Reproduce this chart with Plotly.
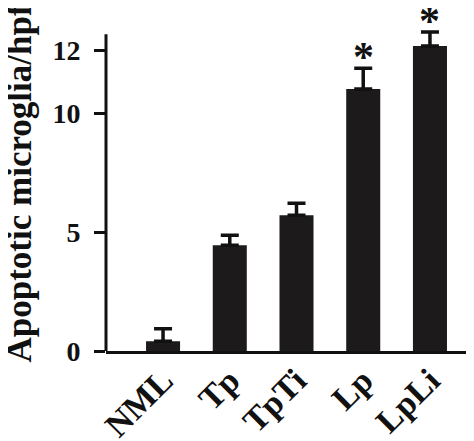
import plotly.graph_objects as go

groups = ["NML", "Tp", "TpTi", "Lp", "LpLi"]
means = [0.41, 4.45, 5.71, 11.02, 12.83]
errors = [0.53, 0.42, 0.51, 0.88, 0.59]
marks = ["", "", "", "*", "*"]
tick_vals = [0, 5, 10, 12.65]
tick_text = ["0", "5", "10", "12"]
axis_top = 13.33

FONT = "Liberation Serif, Times New Roman, serif"
INK = '#111111'

fig = go.Figure()
fig.add_trace(go.Bar(
    x=groups, y=means,
    marker={'color': '#1c1a1a', 'line': {'width': 0}},
    width=0.51,
    error_y={'type': 'data', 'array': errors, 'symmetric': False, 'arrayminus': [0] * len(errors),
             'color': INK, 'thickness': 3.5, 'width': 9},
))

# significance stars sit just above the error caps
for g, m, e, s in zip(groups, means, errors, marks):
    if s:
        fig.add_annotation(x=g, y=m + e, text=s, showarrow=False, xref='x', yref='y',
                           yanchor='bottom', yshift=-14,
                           font={'family': FONT, 'size': 42, 'color': INK, 'weight': 'bold'})

fig.add_shape(type='line', xref='paper', yref='y', x0=0, x1=0, y0=0, y1=axis_top,
              line={'color': INK, 'width': 3})

fig.add_annotation(text="<b>Apoptotic microglia/hpf</b>", textangle=-90, showarrow=False,
                   xref='paper', yref='paper', x=-0.234, y=0.488, xanchor='center', yanchor='middle',
                   font={'size': 35, 'family': FONT, 'color': INK})

fig.update_layout(
    width=466, height=433,
    margin={'l': 98, 'r': 0, 't': 0, 'b': 90},
    paper_bgcolor='white', plot_bgcolor='white',
    showlegend=False,
    font={'family': FONT, 'color': INK},
    xaxis={'range': [-0.855, 4.66], 'showgrid': False, 'showline': True, 'linewidth': 3, 'linecolor': INK,
           'ticks': '', 'tickangle': -45, 'tickfont': {'size': 34, 'family': FONT, 'weight': 'bold'},
           'ticklabelstandoff': -7, 'zeroline': False, 'automargin': False},
    yaxis={'range': [0, 14.43], 'showgrid': False, 'showline': False,
           'ticks': 'outside', 'ticklen': 11, 'tickwidth': 3, 'tickcolor': INK,
           'tickvals': tick_vals, 'ticktext': tick_text, 'zeroline': False, 'automargin': False,
           'tickfont': {'size': 28, 'family': FONT, 'weight': 'bold'}, 'ticklabelstandoff': 8},
)

fig.write_html("out.html", config={"displayModeBar": False})
